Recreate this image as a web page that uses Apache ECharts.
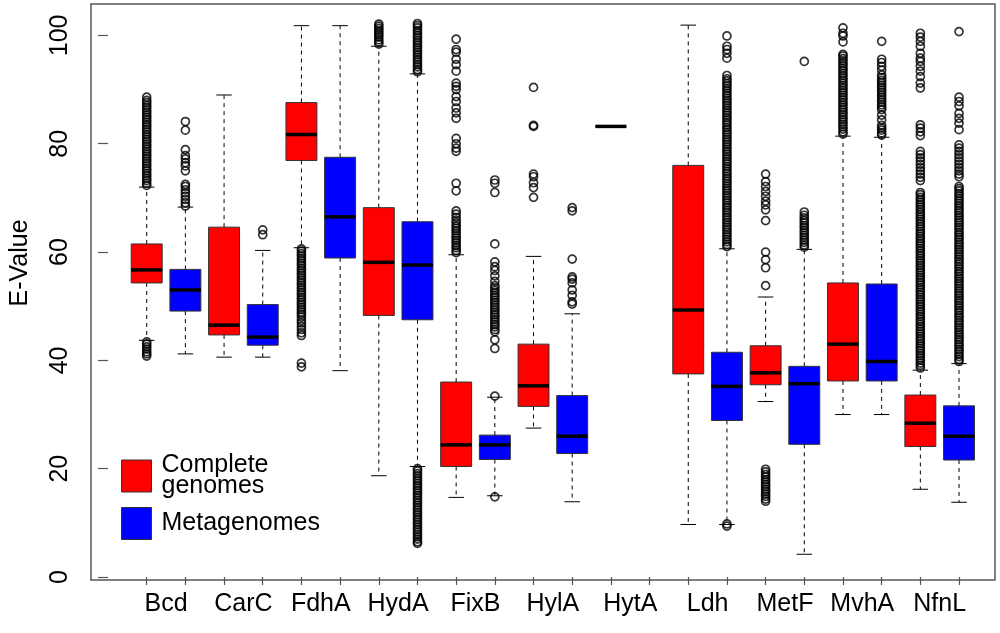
<!DOCTYPE html>
<html>
<head>
<meta charset="utf-8">
<script src="https://cdn.jsdelivr.net/npm/echarts@6/dist/echarts.min.js"></script>
<style>
  html, body { margin: 0; padding: 0; background: #fff; }
  #chart { width: 1000px; height: 633px; }
</style>
</head>
<body>
<div id="chart"></div>
<script>
// gene names, one pair of boxes per gene
var genes = ['Bcd', 'CarC', 'FdhA', 'HydA', 'FixB', 'HylA', 'HytA', 'Ldh', 'MetF', 'MvhA', 'NfnL'];

// [lower whisker, Q1, median, Q3, upper whisker]
var completeStats = [
  [43.7, 54.3, 56.7, 61.5, 72.0],
  [40.6, 44.7, 46.5, 64.6, 89.0],
  [60.8, 76.9, 81.7, 87.6, 101.8],
  [18.7, 48.3, 58.1, 68.2, 98.0],
  [14.7, 20.4, 24.4, 36.0, 59.5],
  [27.5, 31.5, 35.3, 43.0, 59.2],
  [83.2, 83.2, 83.2, 83.2, 83.2],
  [9.7, 37.5, 49.3, 76.0, 101.9],
  [32.4, 35.5, 37.7, 42.7, 51.7],
  [30.0, 36.2, 43.0, 54.3, 81.4],
  [16.2, 24.1, 28.4, 33.6, 38.2]
];
var metaStats = [
  [41.2, 49.1, 53.0, 56.8, 68.3],
  [40.6, 42.8, 44.3, 50.3, 60.3],
  [38.1, 58.9, 66.5, 77.5, 101.8],
  [20.4, 47.5, 57.6, 65.6, 92.9],
  [15.0, 21.7, 24.4, 26.2, 33.2],
  [13.9, 22.8, 26.0, 33.5, 48.6],
  null,
  [9.7, 28.9, 35.2, 41.5, 60.6],
  [4.2, 24.5, 35.7, 38.9, 60.5],
  [30.0, 36.2, 39.8, 54.1, 81.2],
  [13.8, 21.6, 26.0, 31.6, 39.4]
];

// outliers (dense columns listed point by point)
var completeOutliers = [
  [72.3, 72.7, 73.2, 73.6, 74.1, 74.5, 75.0, 75.4, 75.9, 76.3, 76.8, 77.2, 77.7, 78.1, 78.6, 79.0, 79.5, 79.9, 80.4, 80.8, 81.3, 81.7, 82.2, 82.6, 83.1, 83.5, 84.0, 84.4, 84.9, 85.3, 85.8, 86.2, 86.7, 87.1, 87.6, 88.0, 88.6,
   43.4, 43.0, 42.5, 42.1, 41.6, 41.2, 40.8],
  [],
  [60.6, 60.2, 59.7, 59.3, 58.8, 58.4, 57.9, 57.5, 57.0, 56.6, 56.1, 55.7, 55.2, 54.8, 54.3, 53.9, 53.4, 53.0, 52.5, 52.1, 51.6, 51.2, 50.7, 50.3, 49.8, 49.4, 48.9, 48.5, 48.0, 47.4, 46.9, 46.3, 45.7, 45.1, 44.6, 39.5, 38.8],
  [98.4, 98.8, 99.2, 99.7, 100.1, 100.5, 100.9, 101.3, 101.7, 102.1],
  [59.9, 60.3, 60.8, 61.2, 61.7, 62.1, 62.6, 63.0, 63.5, 63.9, 64.4, 64.8, 65.3, 65.8, 66.4, 67.0, 67.6, 71.3, 72.7,
   78.6, 79.2, 80.0, 81.0, 84.7, 85.7, 86.6, 87.8, 88.7, 90.0, 90.6, 91.2, 93.4, 94.6, 95.6, 96.9, 97.4, 99.3],
  [70.1, 71.9, 72.8, 73.9, 74.4, 83.2, 83.4, 90.4],
  [],
  [],
  [53.8, 57.1, 58.6, 60.0, 65.8, 67.8, 68.7, 69.4, 70.3, 71.2, 72.1, 73.0, 74.4,
   19.9, 19.4, 18.9, 18.5, 18.0, 17.6, 17.1, 16.7, 16.2, 15.8, 15.3, 14.9, 14.4, 14.0],
  [81.8, 82.2, 82.7, 83.1, 83.6, 84.0, 84.5, 84.9, 85.4, 85.8, 86.3, 86.7, 87.2, 87.6, 88.1, 88.5, 89.0, 89.4, 89.9, 90.3, 90.8, 91.2, 91.7, 92.1, 92.6, 93.0, 93.5, 93.9, 94.4, 94.8, 95.3, 95.7, 96.2, 96.5,
   98.8, 99.9, 100.4, 101.4],
  [38.6, 39.1, 39.5, 40.0, 40.4, 40.9, 41.3, 41.8, 42.2, 42.7, 43.1, 43.6, 44.0, 44.5, 44.9, 45.4, 45.8, 46.3, 46.7, 47.2, 47.6, 48.1, 48.5, 49.0, 49.4, 49.9, 50.3, 50.8, 51.2, 51.7, 52.1, 52.6, 53.0, 53.5, 53.9, 54.4, 54.8, 55.3, 55.7, 56.2, 56.6, 57.1, 57.5, 58.0, 58.4, 58.9, 59.3, 59.8, 60.2, 60.7, 61.1, 61.6, 62.0, 62.5, 62.9, 63.4, 63.8, 64.3, 64.7, 65.2, 65.6, 66.1, 66.5, 67.0, 67.4, 67.9, 68.3, 68.8, 69.2, 69.7, 70.1, 70.6, 71.0,
   73.2, 73.8, 74.4, 75.0, 75.6, 76.2, 76.8, 77.4, 78.0, 78.6, 81.5, 82.2, 82.9, 83.5,
   90.3, 91.2, 92.4, 93.4, 94.3, 95.2, 95.8, 96.7, 98.0, 98.9, 99.7, 100.4]
];
var metaOutliers = [
  [68.5, 69.1, 69.7, 70.3, 70.9, 71.5, 72.1, 72.5, 75.0, 75.9, 76.5, 77.2, 77.8, 78.9, 82.5, 84.1],
  [63.2, 64.1],
  [],
  [93.3, 93.7, 94.2, 94.6, 95.1, 95.5, 96.0, 96.4, 96.9, 97.3, 97.8, 98.2, 98.7, 99.1, 99.6, 100.0, 100.5, 100.9, 101.4, 101.8, 102.2,
   20.0, 19.6, 19.1, 18.7, 18.2, 17.8, 17.3, 16.9, 16.4, 16.0, 15.5, 15.1, 14.6, 14.2, 13.7, 13.3, 12.8, 12.4, 11.9, 11.5, 11.0, 10.6, 10.1, 9.7, 9.2, 8.8, 8.3, 7.9, 7.4, 7.0, 6.5, 6.2],
  [33.4, 14.8, 42.2, 43.8, 45.3, 45.7, 46.2, 46.6, 47.1, 47.5, 48.0, 48.4, 48.9, 49.3, 49.8, 50.2, 50.7, 51.1, 51.6, 52.0, 52.5, 52.9, 53.4, 53.8, 54.6, 55.6, 56.6, 57.3, 58.2, 61.5, 71.0, 72.7, 73.3],
  [50.4, 50.8, 52.0, 53.0, 54.3, 55.0, 55.4, 58.7, 67.6, 68.2],
  [],
  [9.4, 9.8,
   61.0, 61.4, 61.9, 62.3, 62.8, 63.2, 63.7, 64.1, 64.6, 65.0, 65.5, 65.9, 66.4, 66.8, 67.3, 67.7, 68.2, 68.6, 69.1, 69.5, 70.0, 70.4, 70.9, 71.3, 71.8, 72.2, 72.7, 73.1, 73.6, 74.0, 74.5, 74.9, 75.4, 75.8, 76.3, 76.7, 77.2, 77.6, 78.1, 78.5, 79.0, 79.4, 79.9, 80.3, 80.8, 81.2, 81.7, 82.1, 82.6, 83.0, 83.5, 83.9, 84.4, 84.8, 85.3, 85.7, 86.2, 86.6, 87.1, 87.5, 88.0, 88.4, 88.9, 89.3, 89.8, 90.2, 90.7, 91.1, 91.6, 92.0, 92.6,
   95.8, 96.7, 97.4, 98.0, 99.9],
  [60.9, 61.3, 61.8, 62.2, 62.7, 63.1, 63.6, 64.0, 64.5, 64.9, 65.4, 65.8, 66.3, 66.8, 67.4, 95.2],
  [81.6, 82.0, 82.5, 82.9, 83.4, 84.4, 85.3, 86.3, 86.8, 87.2, 87.7, 88.1, 88.6, 89.0, 89.5, 89.9, 90.4, 90.8, 91.3, 91.7, 92.2, 92.7, 93.6, 94.3, 95.0, 95.6, 98.9],
  [39.8, 40.2, 40.7, 41.1, 41.6, 42.0, 42.5, 42.9, 43.4, 43.8, 44.3, 44.7, 45.2, 45.6, 46.1, 46.5, 47.0, 47.4, 47.9, 48.3, 48.8, 49.2, 49.7, 50.1, 50.6, 51.0, 51.5, 51.9, 52.4, 52.8, 53.3, 53.7, 54.2, 54.6, 55.1, 55.5, 56.0, 56.4, 56.9, 57.3, 57.8, 58.2, 58.7, 59.1, 59.6, 60.0, 60.5, 60.9, 61.4, 61.8, 62.3, 62.7, 63.2, 63.6, 64.1, 64.5, 65.0, 65.4, 65.9, 66.3, 66.8, 67.2, 67.7, 68.1, 68.6, 69.0, 69.5, 69.9, 70.4, 70.8, 71.3, 71.7,
   72.1, 73.9, 74.4, 75.0, 75.6, 76.2, 76.8, 77.4, 78.0, 78.6, 79.2, 79.8, 82.6, 83.8, 84.7, 85.6, 87.0, 87.8, 88.6, 100.7]
];

var yTicks = [0, 20, 40, 60, 80, 100];

var FONT = 'Liberation Sans';

// boxes sit at 1, 2, 3 ... 22 on the x scale, labels between each pair
var completeBoxes = [], metaBoxes = [], outlierPoints = [];
var boxTicks = [], labelPos = [];
genes.forEach(function (g, i) {
  var pc = 2 * i + 1, pm = 2 * i + 2;
  boxTicks.push(pc, pm);
  labelPos.push(pc + 0.5);
  completeBoxes.push([pc].concat(completeStats[i]));
  if (metaStats[i]) metaBoxes.push([pm].concat(metaStats[i]));
  completeOutliers[i].forEach(function (v) { outlierPoints.push([pc, v]); });
  metaOutliers[i].forEach(function (v) { outlierPoints.push([pm, v]); });
});

function renderBox(params, api) {
  var x = api.value(0);
  var lo = api.coord([x, api.value(1)]);
  var q1 = api.coord([x, api.value(2)]);
  var md = api.coord([x, api.value(3)]);
  var q3 = api.coord([x, api.value(4)]);
  var hi = api.coord([x, api.value(5)]);
  var unit = api.size([1, 0])[0];
  var half = unit * 0.4;   // box half width
  var cap = unit * 0.2;    // staple half width
  var cx = md[0];
  var dashed = { stroke: '#000', lineWidth: 1, lineDash: [4, 4] };
  var solid = { stroke: '#000', lineWidth: 1 };
  return {
    type: 'group',
    children: [
      { type: 'line', shape: { x1: cx, y1: q3[1], x2: cx, y2: hi[1] }, style: dashed },
      { type: 'line', shape: { x1: cx, y1: q1[1], x2: cx, y2: lo[1] }, style: dashed },
      { type: 'line', shape: { x1: cx - cap, y1: hi[1], x2: cx + cap, y2: hi[1] }, style: solid },
      { type: 'line', shape: { x1: cx - cap, y1: lo[1], x2: cx + cap, y2: lo[1] }, style: solid },
      {
        type: 'rect',
        shape: { x: cx - half, y: q3[1], width: half * 2, height: q1[1] - q3[1] },
        style: { fill: api.visual('color'), stroke: '#333', lineWidth: 1 }
      },
      { type: 'line', shape: { x1: cx - half, y1: md[1], x2: cx + half, y2: md[1] }, style: { stroke: '#000', lineWidth: 3.5 } }
    ]
  };
}

var chart = echarts.init(document.getElementById('chart'));

var option = {
  animation: false,
  backgroundColor: '#fff',
  grid: {
    left: 86,
    right: 5,
    top: 4,
    bottom: 53,
    show: true,
    borderColor: '#555',
    borderWidth: 1.5
  },
  legend: {
    data: ['Complete genomes', 'Metagenomes'],
    orient: 'vertical',
    left: 116,
    top: 448,
    icon: 'rect',
    itemWidth: 30,
    itemHeight: 32,
    itemGap: 8,
    selectedMode: false,
    itemStyle: { borderColor: '#333', borderWidth: 1 },
    formatter: function (name) { return name.replace(' ', '\n'); },
    textStyle: { fontFamily: FONT, fontSize: 25, lineHeight: 21, color: '#000', padding: [0, 0, 0, 5] }
  },
  xAxis: {
    type: 'value',
    min: -0.44,
    max: 22.93,
    axisLine: { show: false },
    splitLine: { show: false },
    axisTick: {
      show: true,
      length: 8,
      customValues: boxTicks,
      lineStyle: { color: '#555', width: 1.2 }
    },
    axisLabel: {
      customValues: labelPos,
      margin: 12,
      fontFamily: FONT,
      fontSize: 25,
      color: '#000',
      formatter: function (v) { return genes[Math.round((v - 1.5) / 2)]; }
    }
  },
  yAxis: {
    type: 'value',
    min: -0.55,
    max: 105.8,
    name: 'E-Value',
    nameLocation: 'middle',
    nameGap: 58,
    nameTextStyle: { fontFamily: FONT, fontSize: 25, color: '#000', padding: [0, 0, 0, 58] },
    axisLine: { show: false },
    splitLine: { show: false },
    axisTick: {
      show: true,
      length: 10,
      customValues: yTicks,
      lineStyle: { color: '#555', width: 1.2 }
    },
    axisLabel: {
      customValues: yTicks,
      rotate: 90,
      margin: 18,
      fontFamily: FONT,
      fontSize: 25,
      color: '#000'
    }
  },
  series: [
    {
      name: 'Complete genomes',
      type: 'custom',
      renderItem: renderBox,
      itemStyle: { color: '#ff0000' },
      encode: { x: 0, y: [1, 2, 3, 4, 5] },
      data: completeBoxes
    },
    {
      name: 'Metagenomes',
      type: 'custom',
      renderItem: renderBox,
      itemStyle: { color: '#0000ff' },
      encode: { x: 0, y: [1, 2, 3, 4, 5] },
      data: metaBoxes
    },
    {
      name: 'outliers',
      type: 'scatter',
      symbol: 'circle',
      symbolSize: 8,
      silent: true,
      itemStyle: { color: 'rgba(0,0,0,0)', borderColor: '#000', borderWidth: 1.7 },
      data: outlierPoints
    }
  ]
};

chart.setOption(option);
</script>
</body>
</html>
